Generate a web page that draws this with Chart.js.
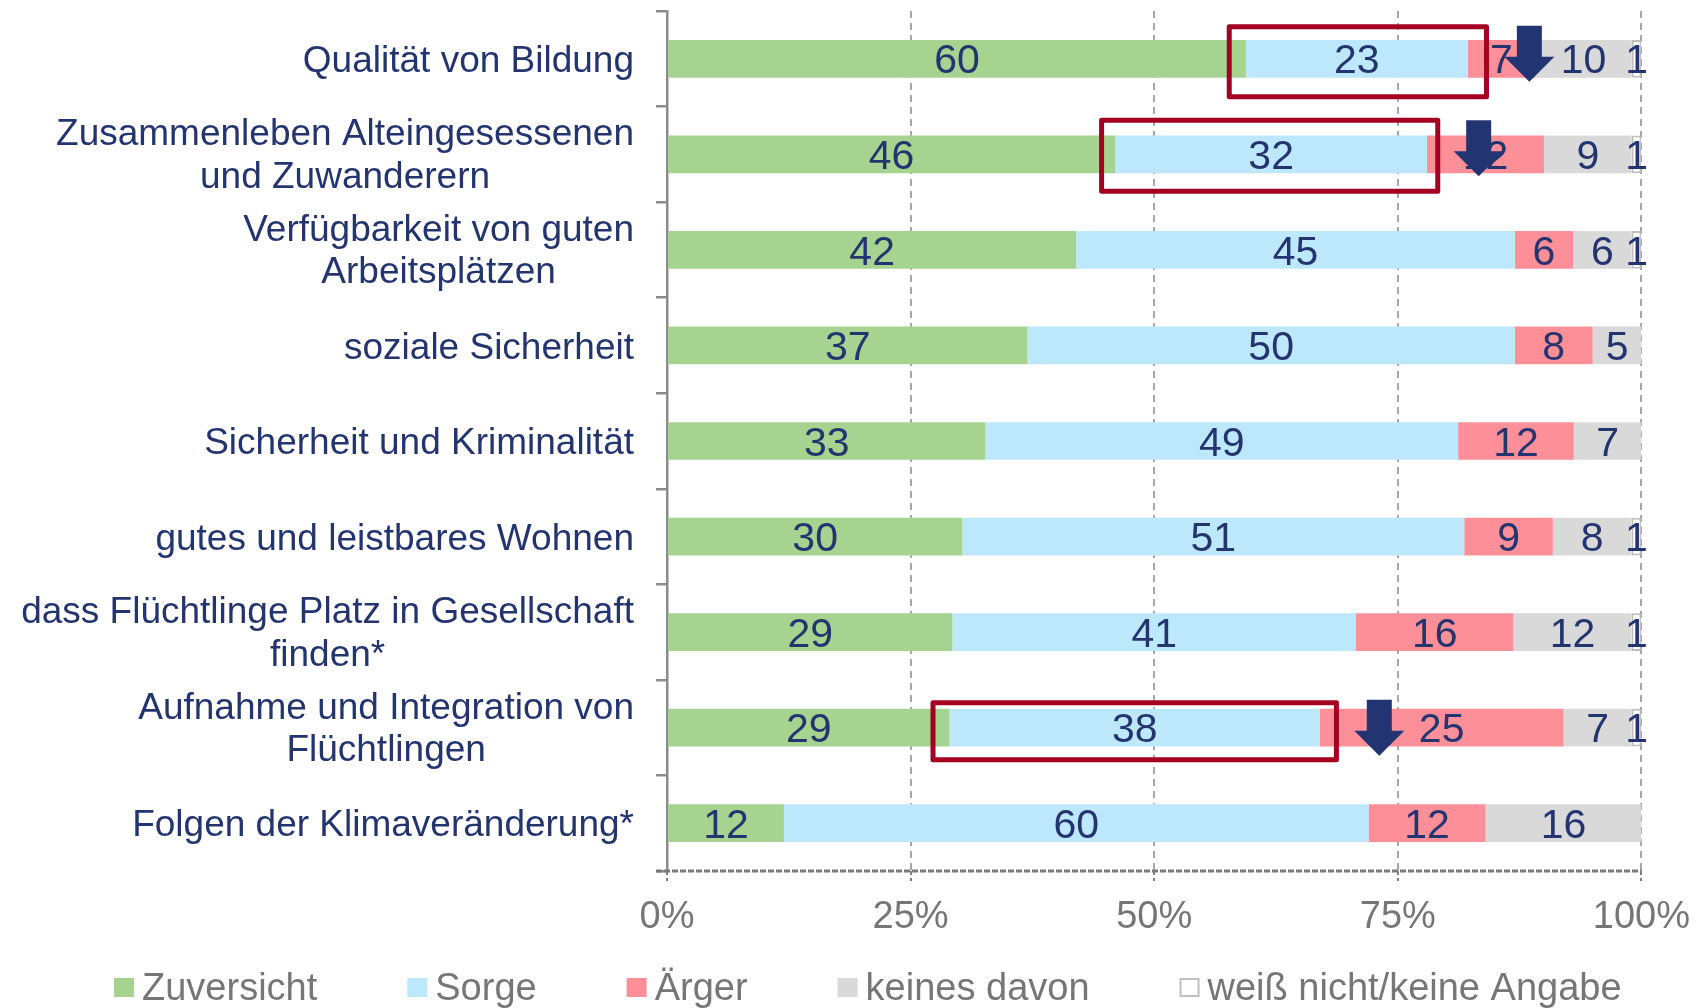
<!DOCTYPE html>
<html lang="de">
<head>
<meta charset="utf-8">
<title>Zuversicht, Sorge, Ärger</title>
<script src="https://cdn.jsdelivr.net/npm/chart.js@4.4.1/dist/chart.umd.min.js"></script>
<style>
  html, body { margin: 0; padding: 0; background: #fff; }
  #wrap { width: 1704px; height: 1008px; }
</style>
</head>
<body>
<div id="wrap"><canvas id="chart"></canvas></div>
<script>
// categories (top to bottom)
const categories = [
    'Qualität von Bildung',
    ['Zusammenleben Alteingesessenen', 'und Zuwanderern'],
    ['Verfügbarkeit von guten', 'Arbeitsplätzen'],
    'soziale Sicherheit',
    'Sicherheit und Kriminalität',
    'gutes und leistbares Wohnen',
    ['dass Flüchtlinge Platz in Gesellschaft', 'finden*'],
    ['Aufnahme und Integration von', 'Flüchtlingen'],
    'Folgen der Klimaveränderung*'
];

const seriesNames = ['Zuversicht', 'Sorge', 'Ärger', 'keines davon', 'weiß nicht/keine Angabe'];
const zuversicht = [60, 46, 42, 37, 33, 30, 29, 29, 12];
const sorge      = [23, 32, 45, 50, 49, 51, 41, 38, 60];
const aerger     = [7, 12, 6, 8, 12, 9, 16, 25, 12];
const keines     = [10, 9, 6, 5, 7, 8, 12, 7, 16];
const weissNicht = [1, 1, 1, 0, 0, 1, 1, 1, 0];
const xTicks = [0, 25, 50, 75, 100];

// highlighted changes (red frames in % of the bar, arrows at % position)
const highlightBoxes = [
    { row: 0, from: 57.7, to: 84.1, above: 32, below: 38 },
    { row: 1, from: 44.6, to: 79.1, above: 34, below: 37 },
    { row: 7, from: 27.3, to: 68.7, above: 25, below: 32 }
];
const downArrows = [
    { row: 0, at: 88.5, above: 33 },
    { row: 1, at: 83.3, above: 34 },
    { row: 7, at: 73.1, above: 28 }
];

const FONT = "'Liberation Sans', Arial, sans-serif";
const NAVY = '#24346f';
const GREY_TEXT = '#767676';
const colors = ['#a6d490', '#bde8fb', '#fd8f99', '#d9d9d9', '#ffffff'];

const series = [zuversicht, sorge, aerger, keines, weissNicht];
const rowTotals = categories.map((_, i) => series.reduce((s, arr) => s + arr[i], 0));

const datasets = series.map((values, k) => ({
    label: seriesNames[k],
    data: values.map((v, i) => v / rowTotals[i] * 100),
    raw: values,
    backgroundColor: colors[k],
    borderColor: k === 4 ? '#bfbfbf' : colors[k],
    borderWidth: k === 4 ? 2 : 0,
    borderSkipped: false,
    categoryPercentage: 1,
    barPercentage: 0.395
}));

function capMid(y, size) {
    return y + size * 0.358;
}

function drawArrow(ctx, cx, top) {
    const shaftW = 25, headW = 50, shaftLen = 31, headLen = 25;
    ctx.beginPath();
    ctx.moveTo(cx - shaftW / 2, top);
    ctx.lineTo(cx + shaftW / 2, top);
    ctx.lineTo(cx + shaftW / 2, top + shaftLen);
    ctx.lineTo(cx + headW / 2, top + shaftLen);
    ctx.lineTo(cx, top + shaftLen + headLen);
    ctx.lineTo(cx - headW / 2, top + shaftLen);
    ctx.lineTo(cx - shaftW / 2, top + shaftLen);
    ctx.closePath();
    ctx.fill();
}

const overlayPlugin = {
    id: 'overlay',
    afterDatasetsDraw(chart) {
        const ctx = chart.ctx;
        const xScale = chart.scales.x;
        const yScale = chart.scales.y;

        // value labels
        ctx.save();
        ctx.font = `41px ${FONT}`;
        ctx.fillStyle = NAVY;
        ctx.textAlign = 'center';
        ctx.textBaseline = 'alphabetic';
        chart.data.datasets.forEach((ds, k) => {
            chart.getDatasetMeta(k).data.forEach((bar, i) => {
                const v = ds.raw[i];
                if (!v) return;
                ctx.fillText(String(v), (bar.x + bar.base) / 2, capMid(bar.y, 41));
            });
        });
        ctx.restore();

        // red frames
        ctx.save();
        ctx.strokeStyle = '#a50021';
        ctx.lineWidth = 5;
        ctx.lineJoin = 'round';
        highlightBoxes.forEach(b => {
            const yc = yScale.getPixelForValue(b.row);
            const x1 = xScale.getPixelForValue(b.from);
            const x2 = xScale.getPixelForValue(b.to);
            ctx.strokeRect(x1, yc - b.above, x2 - x1, b.above + b.below);
        });
        ctx.restore();

        // arrows
        ctx.save();
        ctx.fillStyle = '#233472';
        downArrows.forEach(a => {
            drawArrow(ctx, xScale.getPixelForValue(a.at), yScale.getPixelForValue(a.row) - a.above);
        });
        ctx.restore();
    },
    afterDraw(chart) {
        const ctx = chart.ctx;
        const area = chart.chartArea;
        const yScale = chart.scales.y;

        // category labels: lines centred on each other, block right aligned
        ctx.save();
        ctx.font = `37px ${FONT}`;
        ctx.fillStyle = NAVY;
        ctx.textAlign = 'center';
        const rightX = 634, lh = 42.7;
        categories.forEach((label, i) => {
            const lines = Array.isArray(label) ? label : [label];
            const w = Math.max(...lines.map(l => ctx.measureText(l).width));
            const cx = rightX - w / 2;
            const yc = yScale.getPixelForValue(i) - (lines.length > 1 ? 1 : 0);
            lines.forEach((line, j) => {
                const y = yc + (j - (lines.length - 1) / 2) * lh;
                ctx.fillText(line, cx, capMid(y, 37));
            });
        });
        ctx.restore();

        // dashed bottom axis
        ctx.save();
        ctx.strokeStyle = '#7a7a7a';
        ctx.lineWidth = 3;
        ctx.setLineDash([6, 2]);
        ctx.beginPath();
        ctx.moveTo(area.left - 11, area.bottom);
        ctx.lineTo(area.right, area.bottom);
        ctx.stroke();
        ctx.restore();

        // legend
        ctx.save();
        ctx.font = `38px ${FONT}`;
        ctx.textAlign = 'left';
        let x = 114;
        seriesNames.forEach((name, k) => {
            if (k === 4) {
                ctx.fillStyle = '#ffffff';
                ctx.fillRect(x, 978, 20, 19);
                ctx.strokeStyle = '#bfbfbf';
                ctx.lineWidth = 2;
                ctx.strokeRect(x + 1, 979, 18, 17);
            } else {
                ctx.fillStyle = colors[k];
                ctx.fillRect(x, 978, 20, 19);
            }
            ctx.fillStyle = GREY_TEXT;
            ctx.fillText(name, x + 28, 1000);
            x += 28 + ctx.measureText(name).width + 90;
        });
        ctx.restore();
    }
};

new Chart(document.getElementById('chart'), {
    type: 'bar',
    data: { labels: categories, datasets: datasets },
    options: {
        indexAxis: 'y',
        responsive: true,
        maintainAspectRatio: false,
        animation: false,
        layout: { padding: { top: 11, right: 61, bottom: 67, left: 0 } },
        plugins: {
            legend: { display: false },
            tooltip: { enabled: false }
        },
        scales: {
            x: {
                stacked: true,
                min: 0,
                max: 100,
                afterBuildTicks: scale => { scale.ticks = xTicks.map(v => ({ value: v })); },
                afterFit: scale => { scale.height = 70; },
                ticks: {
                    callback: v => v + '%',
                    font: { family: FONT, size: 38 },
                    color: GREY_TEXT,
                    padding: 14,
                    maxRotation: 0
                },
                grid: {
                    color: '#a6a6a6',
                    lineWidth: 2,
                    drawTicks: true,
                    tickLength: 10,
                    tickColor: '#808080',
                    tickWidth: 2,
                    tickBorderDash: [4, 3]
                },
                border: { display: false, dash: [7, 5] }
            },
            y: {
                stacked: true,
                z: 1,
                afterFit: scale => { scale.width = 667; },
                ticks: { display: false },
                grid: {
                    offset: true,
                    drawOnChartArea: false,
                    drawTicks: true,
                    tickLength: 11,
                    color: '#8c8c8c',
                    lineWidth: 2.5
                },
                border: { display: true, color: '#8c8c8c', width: 2.5 }
            }
        }
    },
    plugins: [overlayPlugin]
});
</script>
</body>
</html>
